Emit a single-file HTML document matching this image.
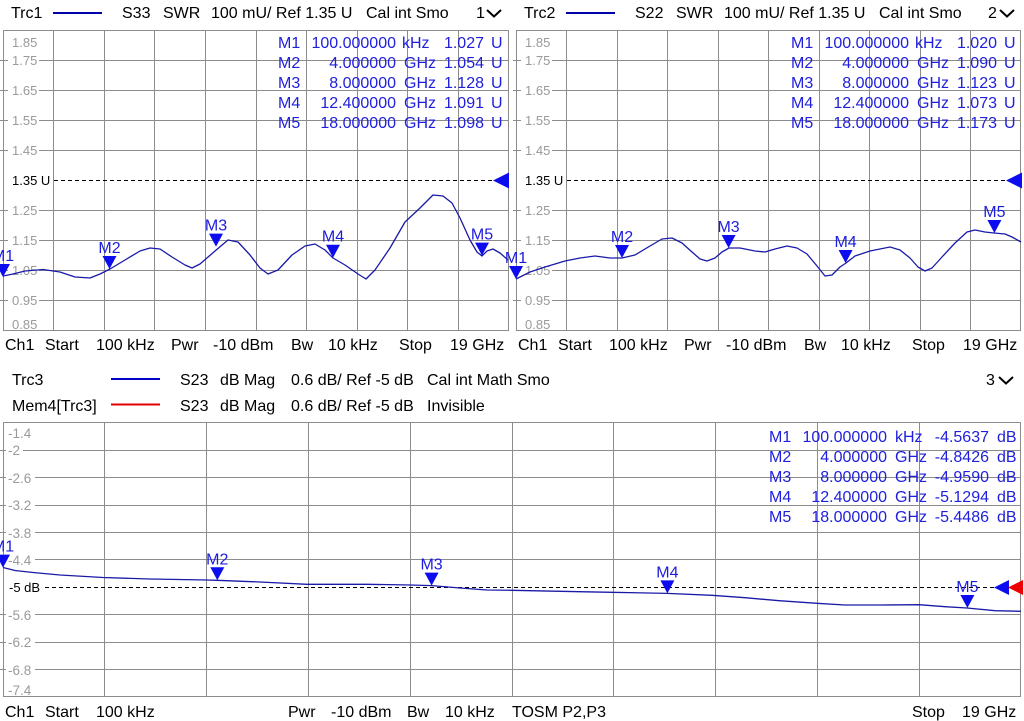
<!DOCTYPE html>
<html><head><meta charset="utf-8"><style>
html,body{margin:0;padding:0;background:#fff;}
svg{display:block;}
text{font-family:"Liberation Sans",Arial,sans-serif;}
.h{font-size:16px;fill:#000;}
.r{font-size:16px;fill:#2020dc;}
.a{font-size:13px;fill:#9a9a9a;}
.ab{font-size:13px;fill:#000;}
.ml{font-size:16px;fill:#1c1cdc;text-anchor:middle;}
.g{stroke:#8c8c8c;stroke-width:1;fill:none;}
.tr{stroke:#1a1aa8;stroke-width:1.3;fill:none;stroke-linejoin:round;}
.mk{fill:#0c0cee;}
.e{text-anchor:end;}
</style></head><body>
<svg width="1024" height="721" viewBox="0 0 1024 721" xmlns="http://www.w3.org/2000/svg">
<rect width="1024" height="721" fill="#fff"/>

<!-- ===== TOP LEFT PANEL ===== -->
<text class="h" x="11" y="18">Trc1</text>
<line x1="53" y1="13" x2="102" y2="13" stroke="#0000a8" stroke-width="2"/>
<text class="h" x="122" y="18">S33</text>
<text class="h" x="163" y="18">SWR</text>
<text class="h" x="211" y="18">100 mU/ Ref 1.35 U</text>
<text class="h" x="366" y="18">Cal int Smo</text>
<text class="h" x="476" y="18">1</text>
<polyline points="487,10 494,16.5 501,10" fill="none" stroke="#000" stroke-width="2"/>

<rect class="g" x="3.5" y="30.5" width="505" height="300"/>
<g class="g">
<line x1="53.5" y1="30" x2="53.5" y2="330"/><line x1="104.5" y1="30" x2="104.5" y2="330"/>
<line x1="154.5" y1="30" x2="154.5" y2="330"/><line x1="205.5" y1="30" x2="205.5" y2="330"/>
<line x1="256.5" y1="30" x2="256.5" y2="330"/><line x1="306.5" y1="30" x2="306.5" y2="330"/>
<line x1="357.5" y1="30" x2="357.5" y2="330"/><line x1="407.5" y1="30" x2="407.5" y2="330"/>
<line x1="458.5" y1="30" x2="458.5" y2="330"/>
<line x1="0" y1="60.5" x2="508" y2="60.5"/><line x1="0" y1="90.5" x2="508" y2="90.5"/>
<line x1="0" y1="120.5" x2="508" y2="120.5"/><line x1="0" y1="150.5" x2="508" y2="150.5"/>
<line x1="0" y1="210.5" x2="508" y2="210.5"/><line x1="0" y1="240.5" x2="508" y2="240.5"/>
<line x1="0" y1="270.5" x2="508" y2="270.5"/><line x1="0" y1="300.5" x2="508" y2="300.5"/>
</g>
<g fill="#fff">
<rect x="8" y="53" width="31" height="15"/><rect x="8" y="83" width="31" height="15"/>
<rect x="8" y="113" width="31" height="15"/><rect x="8" y="143" width="31" height="15"/>
<rect x="8" y="173" width="45" height="15"/>
<rect x="8" y="203" width="31" height="15"/><rect x="8" y="233" width="31" height="15"/>
<rect x="8" y="263" width="31" height="15"/><rect x="8" y="293" width="31" height="15"/>
</g>
<g class="a">
<text x="12" y="47">1.85</text><text x="12" y="65">1.75</text><text x="12" y="95">1.65</text>
<text x="12" y="125">1.55</text><text x="12" y="155">1.45</text><text x="12" y="215">1.25</text>
<text x="12" y="245">1.15</text><text x="12" y="275">1.05</text><text x="12" y="305">0.95</text>
<text x="12" y="329">0.85</text>
</g>
<text class="ab" x="12" y="185">1.35 U</text>
<line x1="54" y1="180.5" x2="494" y2="180.5" stroke="#000" stroke-width="1" stroke-dasharray="4,3"/>
<polygon class="mk" points="493,180.5 509,172.5 509,188.5"/>

<g class="r">
<text x="278" y="48">M1</text><text x="278" y="68">M2</text><text x="278" y="88">M3</text><text x="278" y="108">M4</text><text x="278" y="128">M5</text>
<text class="e" x="396" y="48">100.000000</text><text class="e" x="396" y="68">4.000000</text><text class="e" x="396" y="88">8.000000</text><text class="e" x="396" y="108">12.400000</text><text class="e" x="396" y="128">18.000000</text>
<text x="402" y="48">kHz</text><text x="404" y="68">GHz</text><text x="404" y="88">GHz</text><text x="404" y="108">GHz</text><text x="404" y="128">GHz</text>
<text class="e" x="484" y="48">1.027</text><text class="e" x="484" y="68">1.054</text><text class="e" x="484" y="88">1.128</text><text class="e" x="484" y="108">1.091</text><text class="e" x="484" y="128">1.098</text>
<text x="491" y="48">U</text><text x="491" y="68">U</text><text x="491" y="88">U</text><text x="491" y="108">U</text><text x="491" y="128">U</text>
</g>

<polyline class="tr" points="3,276 13,274 25,271 43,269.5 60,272 75,277 90,278 100,274 110,269 125,260 140,251 150,248 160,249 172,257 185,265 192,268 200,264 215,251 228,240 238,242 250,255 260,268 268,274 278,270 292,255 305,246 315,244 325,250 333,258 345,265 358,274 366,279 375,270 390,248 405,222 420,208 433,195 443,196 452,203 460,218 470,240 477,252 482,256 487,251 493,249 500,253 508,260"/>

<polygon class="mk" points="-4,264 10,264 3,277"/><text class="ml" x="3" y="261">M1</text>
<polygon class="mk" points="102.5,256 116.5,256 109.5,269"/><text class="ml" x="109.5" y="253">M2</text>
<polygon class="mk" points="209,233.6 223,233.6 216,246.6"/><text class="ml" x="216" y="230.6">M3</text>
<polygon class="mk" points="326,244.7 340,244.7 333,257.7"/><text class="ml" x="333" y="241.7">M4</text>
<polygon class="mk" points="475,242.6 489,242.6 482,255.6"/><text class="ml" x="482" y="239.6">M5</text>

<g class="h">
<text x="5" y="350">Ch1</text><text x="45" y="350">Start</text><text x="96" y="350">100 kHz</text>
<text x="171" y="350">Pwr</text><text x="213" y="350">-10 dBm</text><text x="291" y="350">Bw</text>
<text x="328" y="350">10 kHz</text><text x="399" y="350">Stop</text><text x="450" y="350">19 GHz</text>
</g>

<!-- ===== TOP RIGHT PANEL ===== -->
<text class="h" x="524" y="18">Trc2</text>
<line x1="566" y1="13" x2="615" y2="13" stroke="#0000a8" stroke-width="2"/>
<text class="h" x="635" y="18">S22</text>
<text class="h" x="676" y="18">SWR</text>
<text class="h" x="724" y="18">100 mU/ Ref 1.35 U</text>
<text class="h" x="879" y="18">Cal int Smo</text>
<text class="h" x="988" y="18">2</text>
<polyline points="1000,10 1007,16.5 1014,10" fill="none" stroke="#000" stroke-width="2"/>

<rect class="g" x="516.5" y="30.5" width="504" height="300"/>
<g class="g">
<line x1="566.5" y1="30" x2="566.5" y2="330"/><line x1="617.5" y1="30" x2="617.5" y2="330"/>
<line x1="667.5" y1="30" x2="667.5" y2="330"/><line x1="718.5" y1="30" x2="718.5" y2="330"/>
<line x1="768.5" y1="30" x2="768.5" y2="330"/><line x1="819.5" y1="30" x2="819.5" y2="330"/>
<line x1="869.5" y1="30" x2="869.5" y2="330"/><line x1="920.5" y1="30" x2="920.5" y2="330"/>
<line x1="970.5" y1="30" x2="970.5" y2="330"/>
<line x1="513" y1="60.5" x2="1021" y2="60.5"/><line x1="513" y1="90.5" x2="1021" y2="90.5"/>
<line x1="513" y1="120.5" x2="1021" y2="120.5"/><line x1="513" y1="150.5" x2="1021" y2="150.5"/>
<line x1="513" y1="210.5" x2="1021" y2="210.5"/><line x1="513" y1="240.5" x2="1021" y2="240.5"/>
<line x1="513" y1="270.5" x2="1021" y2="270.5"/><line x1="513" y1="300.5" x2="1021" y2="300.5"/>
</g>
<g fill="#fff">
<rect x="521" y="53" width="31" height="15"/><rect x="521" y="83" width="31" height="15"/>
<rect x="521" y="113" width="31" height="15"/><rect x="521" y="143" width="31" height="15"/>
<rect x="521" y="173" width="45" height="15"/>
<rect x="521" y="203" width="31" height="15"/><rect x="521" y="233" width="31" height="15"/>
<rect x="521" y="263" width="31" height="15"/><rect x="521" y="293" width="31" height="15"/>
</g>
<g class="a">
<text x="525" y="47">1.85</text><text x="525" y="65">1.75</text><text x="525" y="95">1.65</text>
<text x="525" y="125">1.55</text><text x="525" y="155">1.45</text><text x="525" y="215">1.25</text>
<text x="525" y="245">1.15</text><text x="525" y="275">1.05</text><text x="525" y="305">0.95</text>
<text x="525" y="329">0.85</text>
</g>
<text class="ab" x="525" y="185">1.35 U</text>
<line x1="567" y1="180.5" x2="1007" y2="180.5" stroke="#000" stroke-width="1" stroke-dasharray="4,3"/>
<polygon class="mk" points="1006,180.5 1022,172.5 1022,188.5"/>

<g class="r">
<text x="791" y="48">M1</text><text x="791" y="68">M2</text><text x="791" y="88">M3</text><text x="791" y="108">M4</text><text x="791" y="128">M5</text>
<text class="e" x="909" y="48">100.000000</text><text class="e" x="909" y="68">4.000000</text><text class="e" x="909" y="88">8.000000</text><text class="e" x="909" y="108">12.400000</text><text class="e" x="909" y="128">18.000000</text>
<text x="915" y="48">kHz</text><text x="917" y="68">GHz</text><text x="917" y="88">GHz</text><text x="917" y="108">GHz</text><text x="917" y="128">GHz</text>
<text class="e" x="997" y="48">1.020</text><text class="e" x="997" y="68">1.090</text><text class="e" x="997" y="88">1.123</text><text class="e" x="997" y="108">1.073</text><text class="e" x="997" y="128">1.173</text>
<text x="1004" y="48">U</text><text x="1004" y="68">U</text><text x="1004" y="88">U</text><text x="1004" y="108">U</text><text x="1004" y="128">U</text>
</g>

<polyline class="tr" points="516,279 530,272 545,267 565,261 580,258 595,256 610,258 622,258 635,255 650,246 662,239 672,238 682,243 692,252 700,259 707,261 715,258 722,252 729,248 740,248 755,251 765,252 775,249 787,246 797,248 807,254 817,266 825,276 832,275 840,267 846,263 855,256 870,251 890,247 900,250 910,258 918,267 925,271 932,268 942,257 955,243 967,232 975,230 985,232 994,233 1005,234 1012,237 1021,242"/>

<polygon class="mk" points="509,266 523,266 516,279"/><text class="ml" x="516" y="263">M1</text>
<polygon class="mk" points="615,245 629,245 622,258"/><text class="ml" x="622" y="242">M2</text>
<polygon class="mk" points="721.6,235 735.6,235 728.6,248"/><text class="ml" x="728.6" y="232">M3</text>
<polygon class="mk" points="838.6,250 852.6,250 845.6,263"/><text class="ml" x="845.6" y="247">M4</text>
<polygon class="mk" points="987.4,220 1001.4,220 994.4,233"/><text class="ml" x="994.4" y="217">M5</text>

<g class="h">
<text x="518" y="350">Ch1</text><text x="558" y="350">Start</text><text x="609" y="350">100 kHz</text>
<text x="684" y="350">Pwr</text><text x="726" y="350">-10 dBm</text><text x="804" y="350">Bw</text>
<text x="841" y="350">10 kHz</text><text x="912" y="350">Stop</text><text x="963" y="350">19 GHz</text>
</g>

<!-- ===== BOTTOM PANEL ===== -->
<text class="h" x="12" y="385">Trc3</text>
<line x1="111" y1="379" x2="160" y2="379" stroke="#0000c8" stroke-width="2"/>
<text class="h" x="180" y="385">S23</text>
<text class="h" x="220" y="385">dB Mag</text>
<text class="h" x="291" y="385">0.6 dB/ Ref -5 dB</text>
<text class="h" x="427" y="385">Cal int Math Smo</text>
<text class="h" x="986" y="385">3</text>
<polyline points="999,377 1006,383.5 1013,377" fill="none" stroke="#000" stroke-width="2"/>

<text class="h" x="12" y="411">Mem4[Trc3]</text>
<line x1="111" y1="404.5" x2="160" y2="404.5" stroke="#e00000" stroke-width="2"/>
<text class="h" x="180" y="411">S23</text>
<text class="h" x="220" y="411">dB Mag</text>
<text class="h" x="291" y="411">0.6 dB/ Ref -5 dB</text>
<text class="h" x="427" y="411">Invisible</text>

<rect class="g" x="3.5" y="422.5" width="1017" height="274"/>
<g class="g">
<line x1="104.5" y1="422" x2="104.5" y2="697"/><line x1="206.5" y1="422" x2="206.5" y2="697"/>
<line x1="308.5" y1="422" x2="308.5" y2="697"/><line x1="410.5" y1="422" x2="410.5" y2="697"/>
<line x1="512.5" y1="422" x2="512.5" y2="697"/><line x1="613.5" y1="422" x2="613.5" y2="697"/>
<line x1="715.5" y1="422" x2="715.5" y2="697"/><line x1="817.5" y1="422" x2="817.5" y2="697"/>
<line x1="919.5" y1="422" x2="919.5" y2="697"/>
<line x1="0" y1="450.5" x2="1021" y2="450.5"/><line x1="0" y1="477.5" x2="1021" y2="477.5"/>
<line x1="0" y1="505.5" x2="1021" y2="505.5"/><line x1="0" y1="532.5" x2="1021" y2="532.5"/>
<line x1="0" y1="559.5" x2="1021" y2="559.5"/><line x1="0" y1="614.5" x2="1021" y2="614.5"/>
<line x1="0" y1="642.5" x2="1021" y2="642.5"/><line x1="0" y1="669.5" x2="1021" y2="669.5"/>
</g>
<g fill="#fff">
<rect x="6" y="443" width="17" height="15"/><rect x="6" y="470" width="29" height="15"/>
<rect x="6" y="498" width="29" height="15"/><rect x="6" y="525" width="29" height="15"/>
<rect x="6" y="552" width="29" height="15"/><rect x="6" y="580" width="38" height="15"/>
<rect x="6" y="607" width="29" height="15"/><rect x="6" y="635" width="29" height="15"/>
<rect x="6" y="662" width="29" height="15"/>
</g>
<g class="a" style="font-size:13.5px">
<text x="8" y="438">-1.4</text><text x="8" y="455">-2</text><text x="8" y="483">-2.6</text>
<text x="8" y="510">-3.2</text><text x="8" y="538">-3.8</text><text x="8" y="565">-4.4</text>
<text x="8" y="620">-5.6</text><text x="8" y="647">-6.2</text><text x="8" y="675">-6.8</text>
<text x="8" y="695">-7.4</text>
</g>
<text class="ab" x="9" y="592">-5 dB</text>
<line x1="45" y1="587.5" x2="995" y2="587.5" stroke="#000" stroke-width="1" stroke-dasharray="4,3"/>

<g class="r">
<text x="769" y="442">M1</text><text x="769" y="462">M2</text><text x="769" y="482">M3</text><text x="769" y="502">M4</text><text x="769" y="522">M5</text>
<text class="e" x="887" y="442">100.000000</text><text class="e" x="887" y="462">4.000000</text><text class="e" x="887" y="482">8.000000</text><text class="e" x="887" y="502">12.400000</text><text class="e" x="887" y="522">18.000000</text>
<text x="895" y="442">kHz</text><text x="895" y="462">GHz</text><text x="895" y="482">GHz</text><text x="895" y="502">GHz</text><text x="895" y="522">GHz</text>
<text class="e" x="989" y="442">-4.5637</text><text class="e" x="989" y="462">-4.8426</text><text class="e" x="989" y="482">-4.9590</text><text class="e" x="989" y="502">-5.1294</text><text class="e" x="989" y="522">-5.4486</text>
<text x="997" y="442">dB</text><text x="997" y="462">dB</text><text x="997" y="482">dB</text><text x="997" y="502">dB</text><text x="997" y="522">dB</text>
</g>

<polyline class="tr" points="3,567.5 15,570.5 33,572.5 60,575 103,577.5 150,579 207,580 217,580.3 260,582 307,584.3 367,584.3 410,585 432,585.6 460,588 487,590 512,590.3 579,591.7 612,592.3 667,593.4 712,595.3 745,597.7 779,600.7 817,603.3 845,605 879,605 919,604.7 945,606.7 967,608 995,610.7 1021,611.3"/>

<polygon class="mk" points="994,587.5 1009,580 1009,595"/>
<polygon points="1008,587.5 1023,580 1023,595" fill="#ee0000"/>

<polygon class="mk" points="-4,554.6 10,554.6 3,567.6"/><text class="ml" x="3" y="551.6">M1</text>
<polygon class="mk" points="210.3,567.3 224.3,567.3 217.3,580.3"/><text class="ml" x="217.3" y="564.3">M2</text>
<polygon class="mk" points="424.6,572.6 438.6,572.6 431.6,585.6"/><text class="ml" x="431.6" y="569.6">M3</text>
<polygon class="mk" points="660.4,580.4 674.4,580.4 667.4,593.4"/><text class="ml" x="667.4" y="577.4">M4</text>
<polygon class="mk" points="960.4,595 974.4,595 967.4,608"/><text class="ml" x="967.4" y="592">M5</text>

<g class="h">
<text x="5" y="717">Ch1</text><text x="45" y="717">Start</text><text x="96" y="717">100 kHz</text>
<text x="288" y="717">Pwr</text><text x="331" y="717">-10 dBm</text><text x="407" y="717">Bw</text>
<text x="445" y="717">10 kHz</text><text x="512" y="717">TOSM P2,P3</text>
<text x="912" y="717">Stop</text><text x="962" y="717">19 GHz</text>
</g>
</svg>
</body></html>
